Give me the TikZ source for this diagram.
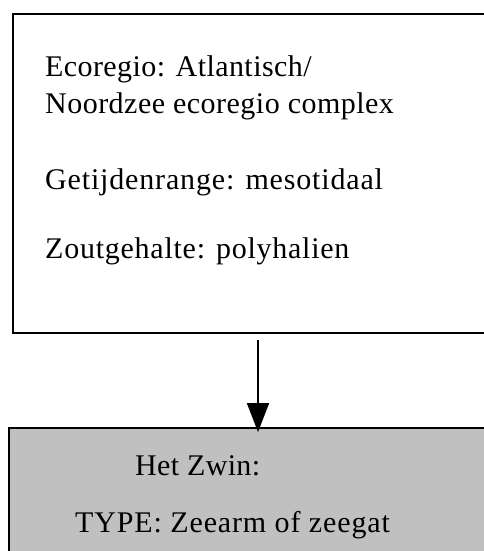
\documentclass[tikz,border=0pt]{standalone}
\usepackage{fontspec}
\setmainfont{Liberation Serif}
\usetikzlibrary{arrows.meta}
\definecolor{boxgray}{HTML}{C0C0C0}
\begin{document}
\begin{tikzpicture}[x=1pt,y=-1pt,
  box/.style={draw, line width=2pt, inner sep=0pt, anchor=north west},
  txt/.style={anchor=base west, inner sep=0pt, font=\fontsize{30}{36}\selectfont},
  arr/.style={-{Triangle[length=29pt,width=22pt]}, line width=2pt}]
\useasboundingbox (0,0) rectangle (484,551);
\clip (0,0) rectangle (484,551);
\node[box, minimum width=490pt, minimum height=319pt] (eco) at (12,13) {};
\node[box, fill=boxgray, minimum width=500pt, minimum height=200pt] (zwin) at (8,427) {};
\node[txt] (l1) at (45,76) {\addfontfeature{LetterSpace=1.4}Ecoregio: Atlantisch/};
\node[txt] (l2) at (45,113) {\addfontfeature{LetterSpace=1.6}Noordzee ecoregio complex};
\node[txt] (l3) at (45,189) {\addfontfeature{LetterSpace=2.8}Getijdenrange: mesotidaal};
\node[txt] (l4) at (45,258) {\addfontfeature{LetterSpace=2.5}Zoutgehalte: polyhalien};
\node[txt] (b1) at (135,475) {\addfontfeature{LetterSpace=1.2}Het Zwin:};
\node[txt] (b2) at (75,532) {\addfontfeature{LetterSpace=2.9}TYPE: Zeearm of zeegat};
\draw[arr] ([yshift=-6pt]eco.south) -- ([xshift=-1pt,yshift=-5pt]zwin.north);
\end{tikzpicture}
\end{document}
